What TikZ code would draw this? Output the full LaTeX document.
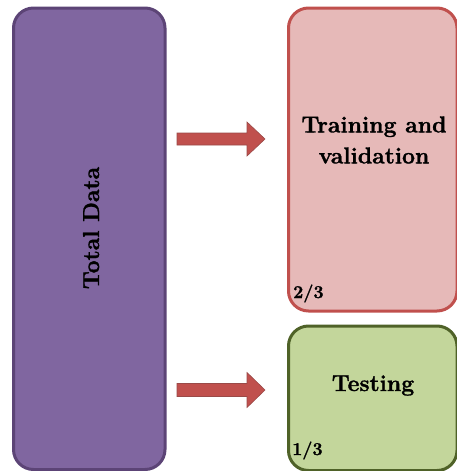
\documentclass[tikz,border=0pt]{standalone}
\usepackage{fontspec}
\setmainfont{Latin Modern Roman}[BoldFeatures={FakeBold=1.3}]
\definecolor{purpfill}{HTML}{8066A0}
\definecolor{purpline}{HTML}{5C4476}
\definecolor{pinkfill}{HTML}{E6B9B8}
\definecolor{pinkline}{HTML}{C0504D}
\definecolor{greenfill}{HTML}{C3D69B}
\definecolor{greenline}{HTML}{4F6228}
\definecolor{arrowfill}{HTML}{C0504D}
\definecolor{arrowline}{HTML}{9A4A48}
\tikzset{
  block/.style={rectangle, rounded corners=20pt, line width=3pt, inner sep=0pt, anchor=north west},
  bigarrow/.style={fill=arrowfill, draw=arrowline, line width=0.6pt, line join=miter},
  blocktext/.style={font=\bfseries\fontsize{23}{31}\selectfont, align=center, text=black, inner sep=0pt},
  fractext/.style={font=\bfseries\fontsize{18}{21}\selectfont, anchor=base west, text=black, inner sep=0pt}
}
\begin{document}
\begin{tikzpicture}[x=1pt, y=-1pt]
\useasboundingbox (0,0) rectangle (457,471);

% the three data blocks
\node[block, fill=purpfill, draw=purpline, minimum width=151.5pt, minimum height=461.5pt] (total) at (12,6.5) {};
\node[block, fill=pinkfill, draw=pinkline, minimum width=168.5pt, minimum height=303pt] (train) at (287,6.5) {};
\node[block, fill=greenfill, draw=greenline, minimum width=168.5pt, minimum height=144.5pt] (test) at (287,324.5) {};

% block labels
\node[blocktext, rotate=90, anchor=base] (totaltxt) at (99,228) {Total Data};
\node[blocktext] (traintxt) at (374,140) {Training and\\validation};
\node[blocktext, anchor=base] (testtxt) at (373,391) {Testing};
\node[fractext] (twothirds) at (293,298) {2/3};
\node[fractext] (onethird) at (292,455) {1/3};

% block arrows from the whole set to each part
\coordinate (a1) at (177,139);
\draw[bigarrow] (a1) ++(0,-6) -- ++(70,0) -- ++(0,-11) -- ++(18,17) -- ++(-18,17) -- ++(0,-11) -- ++(-70,0) -- cycle;
\coordinate (a2) at (177,390);
\draw[bigarrow] (a2) ++(0,-6.5) -- ++(70,0) -- ++(0,-11) -- ++(18,17.5) -- ++(-18,17.5) -- ++(0,-11) -- ++(-70,0) -- cycle;
\end{tikzpicture}
\end{document}
